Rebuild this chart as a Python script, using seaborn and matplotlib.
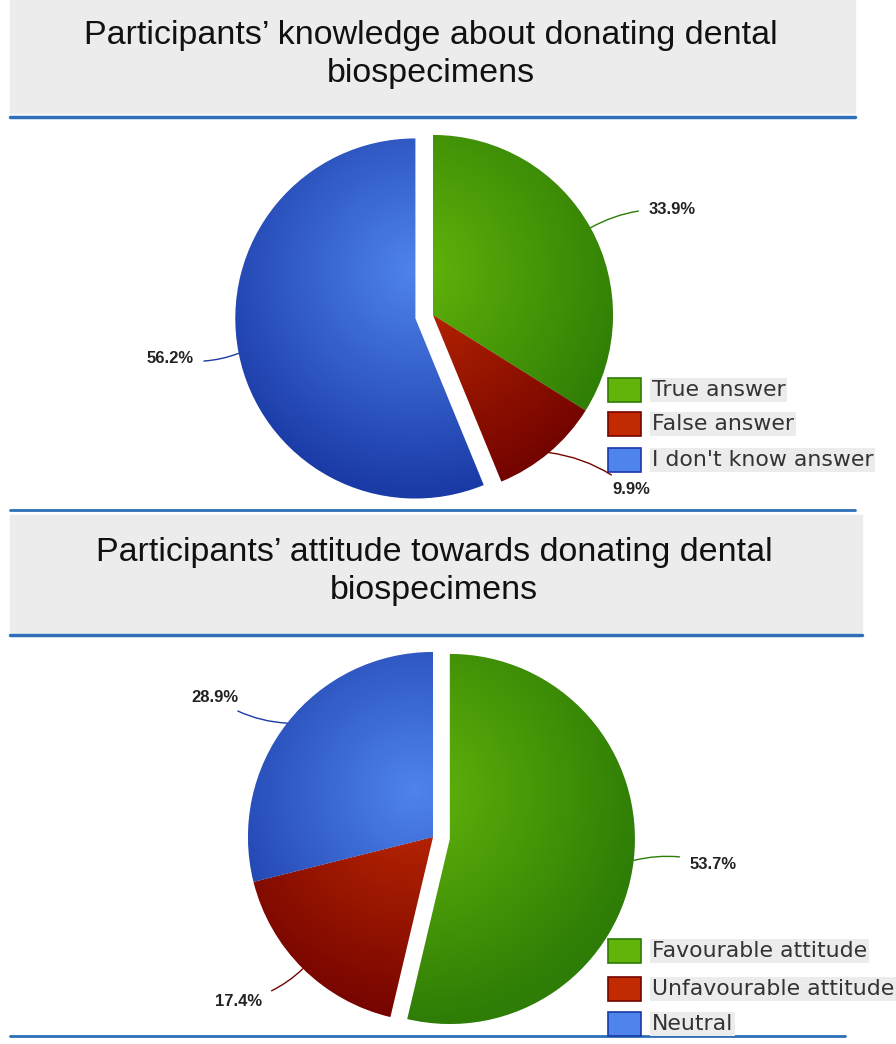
import numpy as np
import matplotlib
matplotlib.use("Agg")
import matplotlib.pyplot as plt
import matplotlib.colors as mcolors
import seaborn as sns

# Chart data
knowledge_labels = ["True answer", "False answer", "I don't know answer"]
knowledge_values = [33.9, 9.9, 56.2]
knowledge_title = "Participants\u2019 knowledge about donating dental\nbiospecimens"

attitude_labels = ["Favourable attitude", "Unfavourable attitude", "Neutral"]
attitude_values = [53.7, 17.4, 28.9]
attitude_title = "Participants\u2019 attitude towards donating dental\nbiospecimens"

W, H = 896, 1044

# light centre / dark edge for each slice colour
GRADS = [("#62b40a", "#2e7d06"), ("#c22a02", "#740400"), ("#4f84ec", "#1a3aa6")]
LINE_BLUE = "#2f6fb8"


def fy(y):
    """image row -> data y (y axis points up)"""
    return H - y


def draw_header(ax, title, x0, x1, y0, y1, line_y, line_x1):
    ax.fill_between([x0, x1], fy(y1), fy(y0), color="#ececec", zorder=1)
    ax.plot([x0, line_x1], [fy(line_y), fy(line_y)], color=LINE_BLUE, lw=2.5, zorder=2)
    ax.text((x0 + x1) / 2 - 2, fy((y0 + y1) / 2 - 2), title, ha="center", va="center",
            fontsize=24.5, family="Liberation Sans", linespacing=1.3, color="#111111")


def shaded_pie(ax, values, center, radius, explode, label_offsets):
    wedges, _ = ax.pie(values, center=center, radius=radius, startangle=90,
                       counterclock=False, explode=explode, frame=True,
                       wedgeprops=dict(linewidth=0.6, edgecolor="white"))
    cx, cy = center
    pad = radius * 1.3
    n = 300
    xs = np.linspace(cx - pad, cx + pad, n)
    ys = np.linspace(cy - pad, cy + pad, n)
    gx, gy = np.meshgrid(xs, ys)
    # light spot slightly above-left of the centre
    r = np.hypot(gx - (cx - 0.1 * radius), gy - (cy + 0.25 * radius)) / (1.25 * radius)
    r = np.clip(r, 0, 1)[..., None]
    for i, (w, (light, dark), (dx, dy)) in enumerate(zip(wedges, GRADS, label_offsets)):
        c0 = np.array(mcolors.to_rgb(light))
        c1 = np.array(mcolors.to_rgb(dark))
        img = c0 * (1 - r) + c1 * r
        w.set_facecolor(dark)
        im = ax.imshow(img, extent=(cx - pad, cx + pad, cy - pad, cy + pad),
                       origin="lower", zorder=w.get_zorder() + 0.1, interpolation="bilinear")
        im.set_clip_path(w)
        # leader line and percentage label
        ang = np.deg2rad((w.theta1 + w.theta2) / 2)
        wx, wy = w.center
        ex = wx + w.r * np.cos(ang)
        ey = wy + w.r * np.sin(ang)
        ax.annotate(f"{values[i]:.1f}%", xy=(ex, ey), xytext=(ex + dx, ey + dy),
                    ha="left" if dx > 0 else "right", va="center",
                    fontsize=12, fontweight="bold", family="Liberation Sans", color="#222222",
                    arrowprops=dict(arrowstyle="-", color=dark, lw=1.0, shrinkA=5, shrinkB=0,
                                    connectionstyle="arc3,rad=0.15"), zorder=6)


def draw_legend(ax, labels, x, rows):
    for (light, dark), lab, yc in zip(GRADS, labels, rows):
        ax.add_patch(plt.Rectangle((x, fy(yc + 12)), 33, 24, facecolor=light,
                                   edgecolor=dark, lw=1.2, zorder=5))
        ax.text(x + 44, fy(yc), lab, ha="left", va="center", fontsize=15.8,
                family="DejaVu Sans", color="#333333", zorder=6,
                bbox=dict(boxstyle="square,pad=0.08", facecolor="#ececec", edgecolor="none"))


sns.set_style("white")
plt.rcParams["font.family"] = ["Liberation Sans", "DejaVu Sans"]

fig = plt.figure(figsize=(W / 100, H / 100), dpi=100)
ax = fig.add_axes([0, 0, 1, 1])

# top panel
draw_header(ax, knowledge_title, 10, 855, 0, 113, 117, 855)
shaded_pie(ax, knowledge_values, center=(433, fy(315)), radius=180,
           explode=[0, 0, 18],
           label_offsets=[(58, 18), (63, -37), (-45, -5)])
draw_legend(ax, knowledge_labels, 608, [390, 424, 460])
ax.plot([10, 855], [fy(510), fy(510)], color=LINE_BLUE, lw=2, zorder=2)

# bottom panel
draw_header(ax, attitude_title, 10, 862, 515, 632, 635, 862)
shaded_pie(ax, attitude_values, center=(433, fy(837)), radius=185,
           explode=[17, 0, 0],
           label_offsets=[(56, -4), (-41, -33), (-49, 26)])
draw_legend(ax, attitude_labels, 608, [951, 989, 1024])
ax.plot([10, 845], [fy(1036), fy(1036)], color=LINE_BLUE, lw=2, zorder=2)

ax.set_xlim(0, W)
ax.set_ylim(0, H)
ax.set_aspect("auto")
ax.axis("off")

fig.savefig("out.png", dpi=100, facecolor="white")
